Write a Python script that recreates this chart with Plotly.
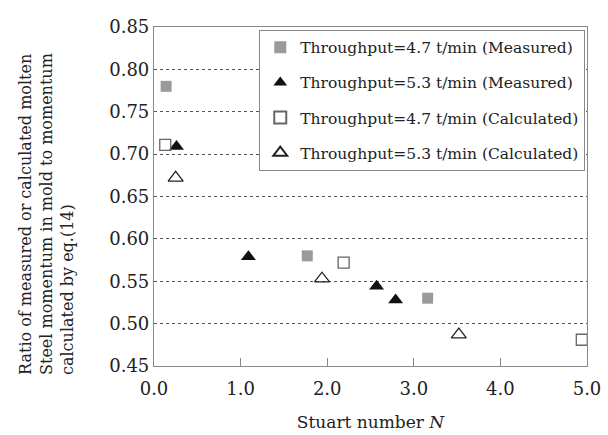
import plotly.graph_objects as go

# Stuart number N and momentum ratio for each series
n_47_measured = [0.14, 1.77, 3.16]
r_47_measured = [0.780, 0.580, 0.530]

n_53_measured = [0.26, 1.09, 2.57, 2.79]
r_53_measured = [0.709, 0.579, 0.544, 0.528]

n_47_calc = [0.13, 2.19, 4.94]
r_47_calc = [0.711, 0.572, 0.481]

n_53_calc = [0.25, 1.94, 3.52]
r_53_calc = [0.672, 0.553, 0.487]

y_ticks = [0.45, 0.50, 0.55, 0.60, 0.65, 0.70, 0.75, 0.80, 0.85]
x_ticks = [0.0, 1.0, 2.0, 3.0, 4.0, 5.0]

FONT = "DejaVu Serif"

fig = go.Figure()
fig.add_trace(go.Scatter(
    x=n_47_measured, y=r_47_measured, mode="markers",
    name="Throughput=4.7 t/min (Measured)", legendgroup="a",
    marker=dict(symbol="square", size=11, color="#9a9a9a", line=dict(width=0)),
))
fig.add_trace(go.Scatter(
    x=n_53_measured, y=r_53_measured, mode="markers",
    name="Throughput=5.3 t/min (Measured)", legendgroup="b",
    marker=dict(symbol="triangle-up", size=13, color="#111111", line=dict(width=0)),
))
fig.add_trace(go.Scatter(
    x=n_47_calc, y=r_47_calc, mode="markers",
    name="Throughput=4.7 t/min (Calculated)", legendgroup="c",
    marker=dict(symbol="square-open", size=11, color="#666666", line=dict(width=1.3)),
))
fig.add_trace(go.Scatter(
    x=n_53_calc, y=r_53_calc, mode="markers",
    name="Throughput=5.3 t/min (Calculated)", legendgroup="d",
    marker=dict(symbol="triangle-up-open", size=13, color="#222222", line=dict(width=1.3)),
))

fig.update_layout(
    width=608, height=435,
    margin=dict(l=154, r=21, t=27, b=69),
    paper_bgcolor="white", plot_bgcolor="white",
    font=dict(family=FONT, size=18, color="#222222"),
    showlegend=True,
    legend=dict(
        x=0.996, y=0.992, xanchor="right", yanchor="top",
        bgcolor="white", bordercolor="#888888", borderwidth=1,
        font=dict(family=FONT, size=15.5, color="#222222"),
        itemsizing="constant", tracegroupgap=12, itemwidth=30,
    ),
    xaxis=dict(
        range=[0, 5], tickvals=x_ticks, ticktext=[f"{v:.1f}" for v in x_ticks],
        showgrid=False, zeroline=False, automargin=False,
        showline=True, linecolor="#888888", linewidth=1.2, mirror=True,
        ticks="inside", ticklen=8, tickcolor="#888888",
        tickfont=dict(size=18), ticklabelstandoff=6,
        title=dict(text="Stuart number <i>N</i>", font=dict(size=17), standoff=18),
    ),
    yaxis=dict(
        range=[0.45, 0.85], tickvals=y_ticks, ticktext=[f"{v:.2f}" for v in y_ticks],
        showgrid=True, gridcolor="#555555", gridwidth=1, griddash="dot",
        zeroline=False, automargin=False,
        showline=True, linecolor="#888888", linewidth=1.2, mirror=True,
        ticks="", tickfont=dict(size=18),
    ),
    annotations=[dict(
        text="Ratio of measured or calculated molten<br>"
             "Steel momentum in mold to momentum<br>"
             "calculated by eq.(14)",
        xref="paper", yref="paper", x=0, y=0,
        xanchor="center", yanchor="bottom", xshift=-108, yshift=-11,
        textangle=-90, align="left", showarrow=False,
        font=dict(family=FONT, size=16, color="#222222"),
    )],
)

fig.write_html("out.html")
